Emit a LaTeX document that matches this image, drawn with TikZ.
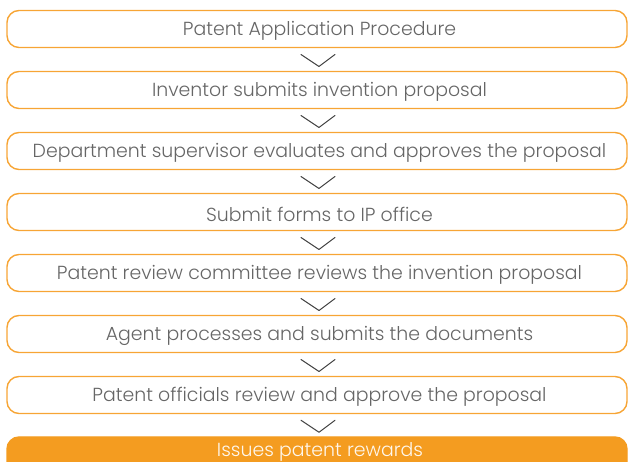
\documentclass[tikz,border=0pt]{standalone}
\usepackage{fontspec}
\setmainfont{Poppins}[UprightFont=* Light]
\usetikzlibrary{calc}
\definecolor{orangeline}{HTML}{F7A535}
\definecolor{orangefill}{HTML}{F49C20}
\definecolor{txtgray}{HTML}{666666}
\definecolor{chev}{HTML}{444444}
\newcommand{\boxtext}[1]{\hspace*{5pt}\raisebox{-2pt}[\height][\depth]{#1}}
\tikzset{
  txtfont/.style={font=\fontsize{18.9pt}{22pt}\selectfont},
  stepbox/.style={draw=orangeline, line width=1.4pt, rounded corners=12pt, minimum width=620pt, minimum height=37pt, inner sep=0pt, text=txtgray, txtfont},
  lastbox/.style={stepbox, fill=orangefill, draw=orangefill},
  chevline/.style={draw=chev, line width=1pt, line cap=round, line join=round}
}
\begin{document}
\begin{tikzpicture}[x=1pt,y=1pt]
\useasboundingbox (0,0) rectangle (628,462);
\clip (0,0) rectangle (628,462);
\node[stepbox] (b0) at (317,{462-29}) {\boxtext{Patent Application Procedure}};
\node[stepbox] (b1) at (317,{462-90}) {\boxtext{Inventor submits invention proposal}};
\node[stepbox] (b2) at (317,{462-151}) {\boxtext{Department supervisor evaluates and approves the proposal}};
\node[stepbox] (b3) at (317,{462-212}) {\boxtext{Submit forms to IP office}};
\node[stepbox] (b4) at (317,{462-273}) {\boxtext{Patent review committee reviews the invention proposal}};
\node[stepbox] (b5) at (317,{462-334}) {\boxtext{Agent processes and submits the documents}};
\node[stepbox] (b6) at (317,{462-395}) {\boxtext{Patent officials review and approve the proposal}};
\node[lastbox, minimum height=42pt] (b7) at (317,{462-458}) {};
\node[text=white!92!orangefill, txtfont] (t7) at (320,{462-451.5}) {Issues patent rewards};
\foreach \a/\b in {b0/b1,b1/b2,b2/b3,b3/b4,b4/b5,b5/b6,b6/b7}{
  \coordinate (m) at ($(\a.south)!0.5!(\b.north)$);
  \draw[chevline] ($(m)+(-16,5)$) -- ($(m)+(2,-7)$) -- ($(m)+(18,5)$);
}
\end{tikzpicture}
\end{document}
